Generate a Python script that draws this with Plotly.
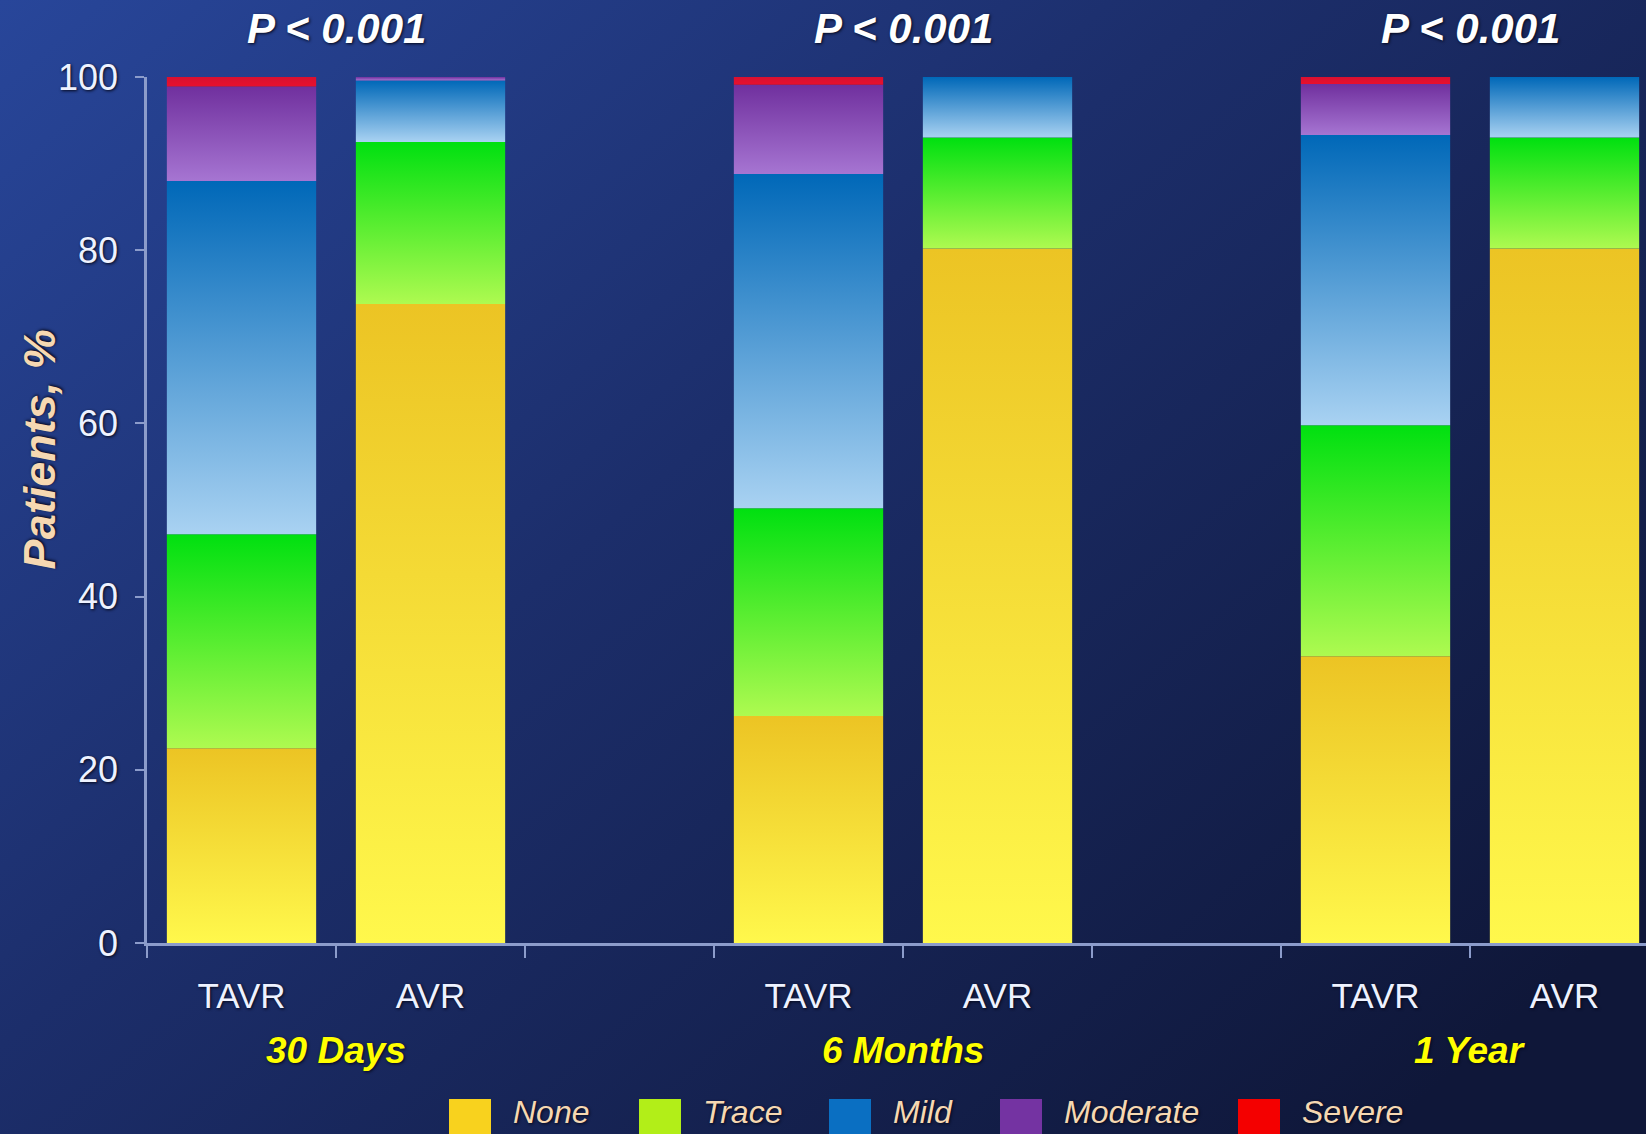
import base64
import plotly.graph_objects as go

# ---------------- data ----------------
timepoints = ["30 Days", "6 Months", "1 Year"]
arms = ["TAVR", "AVR"]
grades = ["None", "Trace", "Mild", "Moderate", "Severe"]

# Paravalvular regurgitation grade, % of patients
# bar order: 30d TAVR, 30d AVR, 6m TAVR, 6m AVR, 1y TAVR, 1y AVR
none_pct = [22.5, 73.8, 26.2, 80.2, 33.1, 80.2]
trace_pct = [24.7, 18.7, 24.0, 12.8, 26.7, 12.8]
mild_pct = [40.8, 7.1, 38.6, 7.0, 33.5, 7.0]
moderate_pct = [10.9, 0.4, 10.3, 0.0, 5.9, 0.0]
severe_pct = [1.1, 0.0, 0.9, 0.0, 0.8, 0.0]

p_labels = ["P < 0.001", "P < 0.001", "P < 0.001"]
y_ticks = [0, 20, 40, 60, 80, 100]

grade_values = {
    "None": none_pct,
    "Trace": trace_pct,
    "Mild": mild_pct,
    "Moderate": moderate_pct,
    "Severe": severe_pct,
}

# ---------------- styling ----------------
# (bottom colour, top colour, legend swatch)
grade_colors = {
    "None": ("#FFF84C", "#ECC424", "#F8D21E"),
    "Trace": ("#AEFA50", "#00E010", "#B2EE18"),
    "Mild": ("#A9D2F2", "#0068B8", "#0A6FC2"),
    "Moderate": ("#A675D2", "#70309E", "#7433A2"),
    "Severe": ("#E8102E", "#D81030", "#F40000"),
}

W, H = 1646, 1134
ML, MR, MT, MB = 147, 0, 77, 191
PW, PH = W - ML - MR, H - MT - MB
BASE_PX = MT + PH          # pixel row of the x axis
SLOT_PX = 189
X_MAX = -0.5 + PW / SLOT_PX
BAR_W = 0.79

AXIS_COLOR = "#8C9CCB"
TEXT_WHITE = "#EEF2FF"
PEACH = "#F6D8B2"
FONT = "Liberation Sans, Arial, sans-serif"
SHADOW = "1px 1px 3px #05081A"


def px_x(px):
    return (px - ML) / PW


def px_y(py):
    return (BASE_PX - py) / PH


# bar positions: two arms per time point, one empty slot between groups
bar_x, bar_labels = [], []
for g, _tp in enumerate(timepoints):
    for a, arm in enumerate(arms):
        bar_x.append(g * 3 + a)
        bar_labels.append(arm)
group_centers = [g * 3 + 0.5 for g in range(len(timepoints))]

fig = go.Figure()

for gi, grade in enumerate(grades):
    bottom, top, swatch = grade_colors[grade]
    for i, (x, v) in enumerate(zip(bar_x, grade_values[grade])):
        if v <= 0:
            continue
        base = sum(grade_values[g][i] for g in grades[:gi])
        x0, x1 = x - BAR_W / 2, x + BAR_W / 2
        fig.add_trace(
            go.Scatter(
                x=[x0, x1, x1, x0, x0],
                y=[base, base, base + v, base + v, base],
                mode="lines",
                fill="toself",
                fillcolor=swatch,
                fillgradient=dict(
                    type="vertical",
                    colorscale=[[0, bottom], [1, top]],
                    start=base,
                    stop=base + v,
                ),
                line=dict(width=0, color=swatch),
                name=grade,
                showlegend=False,
                hovertemplate=f"{bar_labels[i]} – {grade}: {v:.1f}%<extra></extra>",
            )
        )

# background gradient covering the whole page
bg_svg = (
    f'<svg xmlns="http://www.w3.org/2000/svg" width="{W}" height="{H}" '
    f'viewBox="0 0 {W} {H}" preserveAspectRatio="none">'
    '<defs><linearGradient id="g" x1="0" y1="0" x2="1" y2="0.8">'
    '<stop offset="0" stop-color="#28469A"/>'
    '<stop offset="0.45" stop-color="#1C2E6B"/>'
    '<stop offset="1" stop-color="#0F1739"/>'
    '</linearGradient></defs>'
    f'<rect x="0" y="0" width="{W}" height="{H}" fill="url(#g)"/></svg>'
)
bg_src = "data:image/svg+xml;base64," + base64.b64encode(bg_svg.encode()).decode()

annotations = []
shapes = []

for xc, p in zip(group_centers, p_labels):
    annotations.append(dict(
        x=xc, xref="x", y=px_y(29), yref="paper",
        text=f"<b><i>{p}</i></b>", showarrow=False,
        font=dict(family=FONT, size=42, color="#FFFFFF", shadow=SHADOW),
        xanchor="center", yanchor="middle",
    ))
for xc, tp in zip(group_centers, timepoints):
    annotations.append(dict(
        x=xc, xref="x", y=px_y(1050), yref="paper",
        text=f"<b><i>{tp}</i></b>", showarrow=False,
        font=dict(family=FONT, size=37, color="#FFFF00", shadow=SHADOW),
        xanchor="center", yanchor="middle",
    ))
annotations.append(dict(
    x=px_x(39), xref="paper", y=57, yref="y",
    text="<b><i>Patients, %</i></b>", showarrow=False, textangle=-90,
    font=dict(family=FONT, size=45, color=PEACH, shadow=SHADOW),
    xanchor="center", yanchor="middle",
))

# legend: colour swatch + italic label for each grade
legend_left_px = [449, 639, 829, 1000, 1238]
SWATCH_W, SWATCH_TOP, SWATCH_BOTTOM = 42, 1099, 1140
for grade, left in zip(grades, legend_left_px):
    shapes.append(dict(
        type="rect", xref="paper", yref="paper",
        x0=px_x(left), x1=px_x(left + SWATCH_W),
        y0=px_y(SWATCH_BOTTOM), y1=px_y(SWATCH_TOP),
        fillcolor=grade_colors[grade][2], line=dict(width=0), layer="above",
    ))
    annotations.append(dict(
        x=px_x(left + SWATCH_W + 20), xref="paper", y=px_y(1132), yref="paper",
        text=f"<i>{grade}</i>", showarrow=False,
        font=dict(family=FONT, size=32, color=PEACH, shadow=SHADOW),
        xanchor="left", yanchor="bottom",
    ))

fig.update_layout(
    width=W, height=H,
    margin=dict(l=ML, r=MR, t=MT, b=MB, pad=0),
    paper_bgcolor="#1B2C66",
    plot_bgcolor="rgba(0,0,0,0)",
    images=[dict(
        source=bg_src, xref="paper", yref="paper",
        x=-ML / PW, y=1 + MT / PH, sizex=W / PW, sizey=H / PH,
        xanchor="left", yanchor="top", sizing="stretch", layer="below",
    )],
    showlegend=False,
    annotations=annotations,
    shapes=shapes,
    xaxis=dict(
        range=[-0.5, X_MAX], fixedrange=True,
        tickmode="array", tickvals=bar_x, ticktext=bar_labels,
        ticks="", showgrid=False, zeroline=False,
        showline=True, linecolor=AXIS_COLOR, linewidth=2.5,
        tickfont=dict(family=FONT, size=35, color=TEXT_WHITE, shadow=SHADOW),
        ticklabelstandoff=20,
        minor=dict(tickmode="linear", tick0=-0.5, dtick=1, ticks="outside",
                   ticklen=12, tickwidth=2, tickcolor=AXIS_COLOR, showgrid=False),
    ),
    yaxis=dict(
        range=[0, 100], fixedrange=True,
        tickmode="array", tickvals=y_ticks,
        ticks="outside", ticklen=9, tickwidth=2, tickcolor=AXIS_COLOR,
        showgrid=False, zeroline=False,
        showline=True, linecolor=AXIS_COLOR, linewidth=2.5,
        tickfont=dict(family=FONT, size=36, color=TEXT_WHITE, shadow=SHADOW),
        ticklabelstandoff=10,
    ),
)

fig.write_html("out.html")
